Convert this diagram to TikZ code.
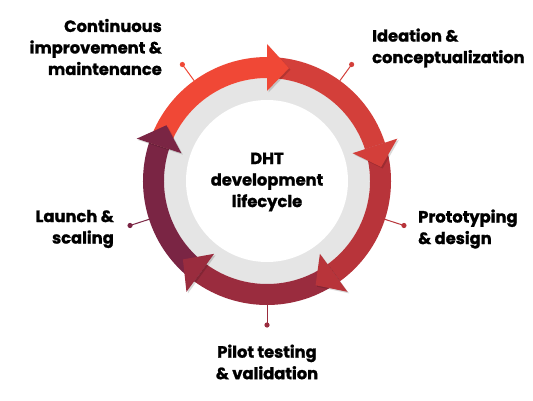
\documentclass[tikz,border=0pt]{standalone}
\usepackage{fontspec}
\setmainfont{Poppins}[BoldFont={Poppins Bold}, BoldFeatures={FakeBold=1.3}]
\usetikzlibrary{calc}
\definecolor{segA}{RGB}{240,72,54}
\definecolor{segB}{RGB}{211,63,58}
\definecolor{segC}{RGB}{184,52,58}
\definecolor{segD}{RGB}{154,44,62}
\definecolor{segE}{RGB}{122,37,68}
\definecolor{ringgray}{RGB}{229,229,229}
\begin{document}
\begin{tikzpicture}[x=1pt,y=1pt,
  lbl/.style={font=\fontsize{16.3}{21.5}\selectfont\bfseries, inner sep=0pt, text=black},
  pinline/.style={line width=1pt},
]
\useasboundingbox[fill=white] (0,0) rectangle (533,400);
\coordinate (c) at (267,219);
% gray inner ring
\fill[ringgray] (c) circle (103);
\fill[white] (c) circle (81);
% band bodies
\foreach \a/\b/\col in {162/90/segA, 90/18/segB, 18/-54/segC, -54/-126/segD, -126/-198/segE}{
  \fill[\col] ($(c)+(\a:124)$) arc[start angle=\a, end angle=\b, radius=124]
     -- ($(c)+(\b:103)$) arc[start angle=\b, end angle=\a, radius=103] -- cycle;
}
% arrow heads
\foreach \b/\col in {90/segA, 18/segB, -54/segC, -126/segD, -198/segE}{
  \pgfmathsetmacro\t{\b-11}
  \fill[black, opacity=0.15] ($(c)+(\b:90)+(1.5,-1.5)$) -- ($(c)+(\b:137)+(1.5,-1.5)$) -- ($(c)+(\t:115)+(1.5,-1.5)$) -- cycle;
  \fill[\col] ($(c)+(\b:90)$) -- ($(c)+(\b:137)$) -- ($(c)+(\t:115)$) -- cycle;
}
% pins
\foreach \p/\col [count=\i] in {126/segA, 54/segB, -18/segC, -90/segD, 198/segE}{
  \coordinate (pa\i) at ($(c)+(\p:124)$);
  \coordinate (pb\i) at ($(c)+(\p:144)$);
  \draw[pinline, \col] (pa\i) -- (pb\i);
  \fill[\col] (pb\i) circle (2.6);
}
% labels
\node[lbl, anchor=east, align=right] (l1) at (162,353) {Continuous\\improvement \&\\maintenance};
\node[lbl, anchor=west, align=left] (l2) at (372,352) {Ideation \&\\conceptualization};
\node[lbl, anchor=west, align=left] (l3) at (418,171) {Prototyping\\\& design};
\node[lbl, align=center] (l4) at (267,38) {Pilot testing\\\& validation};
\node[lbl, anchor=east, align=right] (l5) at (114,171) {Launch \&\\scaling};
\node[lbl, align=center] (ctr) at (267,218) {DHT\\development\\lifecycle};
\end{tikzpicture}
\end{document}
